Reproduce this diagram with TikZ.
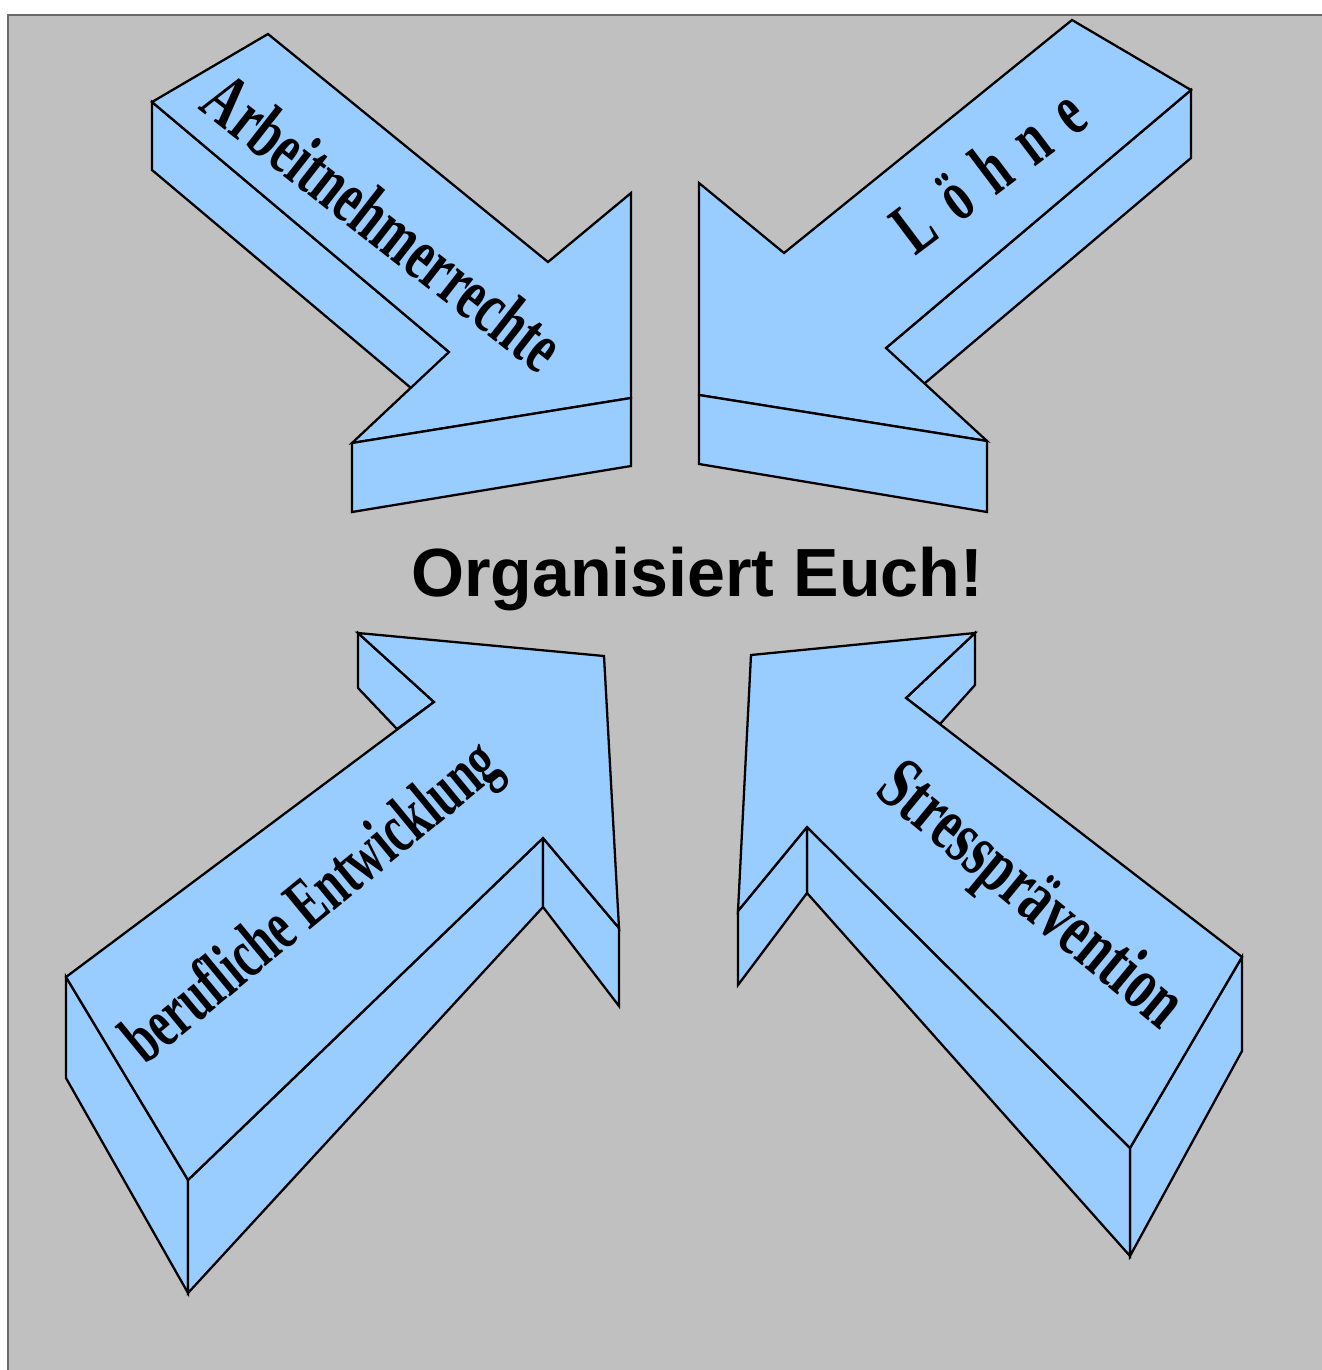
\documentclass[tikz,border=0pt]{standalone}
\usepackage{fontspec}
\usepackage{graphicx}
\setmainfont{Liberation Serif}
\newfontfamily\slogfont{Liberation Sans}
\definecolor{PanelGray}{RGB}{192,192,192}
\definecolor{FrameGray}{RGB}{105,105,105}
\definecolor{ArrowBlue}{RGB}{153,204,255}
\tikzset{
  face/.style={fill=ArrowBlue, draw=black, line width=1.3pt},
  arrowtext/.style={font=\fontsize{28.3}{30}\selectfont\bfseries, inner sep=0pt}
}

\begin{document}
\begin{tikzpicture}[x=0.02cm, y=-0.02cm]
  \clip (0,0) rectangle (1322,1370);
  \fill[white] (0,0) rectangle (1322,1370);
  \draw[fill=PanelGray, draw=FrameGray, line width=0.6pt] (8,15) rectangle (1340,1390);
  % top left arrow
  \draw[face] (152,102) -- (449,352) -- (449,420) -- (152,170) -- cycle;
  \draw[face] (152,102) -- (268,34) -- (548,262) -- (631,193) -- (631,398) -- (352,443) -- (449,352) -- cycle;
  \draw[face] (352,443) -- (631,398) -- (631,466) -- (352,512) -- cycle;
  % top right arrow
  \draw[face] (1191,90) -- (886,348) -- (886,416) -- (1191,158) -- cycle;
  \draw[face] (1072,20) -- (1191,90) -- (886,348) -- (987,441) -- (699,395) -- (699,183) -- (784,253) -- cycle;
  \draw[face] (699,395) -- (987,441) -- (987,512) -- (699,464) -- cycle;
  % bottom left arrow
  \draw[face] (66,977) -- (188,1180) -- (188,1293) -- (66,1078) -- cycle;
  \draw[face] (188,1180) -- (543,838) -- (543,907) -- (188,1293) -- cycle;
  \draw[face] (543,838) -- (619,928) -- (619,1006) -- (543,907) -- cycle;
  \draw[face] (358,633) -- (434,702) -- (397,729) -- (358,688) -- cycle;
  \draw[face] (66,977) -- (188,1180) -- (543,838) -- (619,928) -- (604,656) -- (358,633) -- (434,702) -- cycle;
  % bottom right arrow
  \draw[face] (1242,957) -- (1130,1148) -- (1130,1256) -- (1242,1051) -- cycle;
  \draw[face] (1130,1148) -- (807,827) -- (807,893) -- (1130,1256) -- cycle;
  \draw[face] (807,827) -- (738,911) -- (738,985) -- (807,893) -- cycle;
  \draw[face] (975,633) -- (906,698) -- (940,724) -- (975,685) -- cycle;
  \draw[face] (1242,957) -- (1130,1148) -- (807,827) -- (738,911) -- (751,655) -- (975,633) -- (906,698) -- cycle;
  % labels
  \node[arrowtext, rotate=-38] (rechte) at (384,222) {\scalebox{1}[1.5]{Arbeitnehmerrechte}};
  \node[arrowtext, rotate=37] (loehne) at (988,170) {\spaceskip=0.42em\scalebox{1}[1.5]{L ö h n e}};
  \node[arrowtext, rotate=39.5] (beruf) at (314,905) {\scalebox{0.93}[1.42]{berufliche Entwicklung}};
  \node[arrowtext, rotate=-39.5] (stress) at (1029,898) {\scalebox{1.04}[1.52]{Stressprävention}};
  \node[font=\slogfont\bfseries\fontsize{38.8}{40}\selectfont, anchor=base, inner sep=0pt] (slogan) at (697,596) {Organisiert Euch!};
\end{tikzpicture}
\end{document}
